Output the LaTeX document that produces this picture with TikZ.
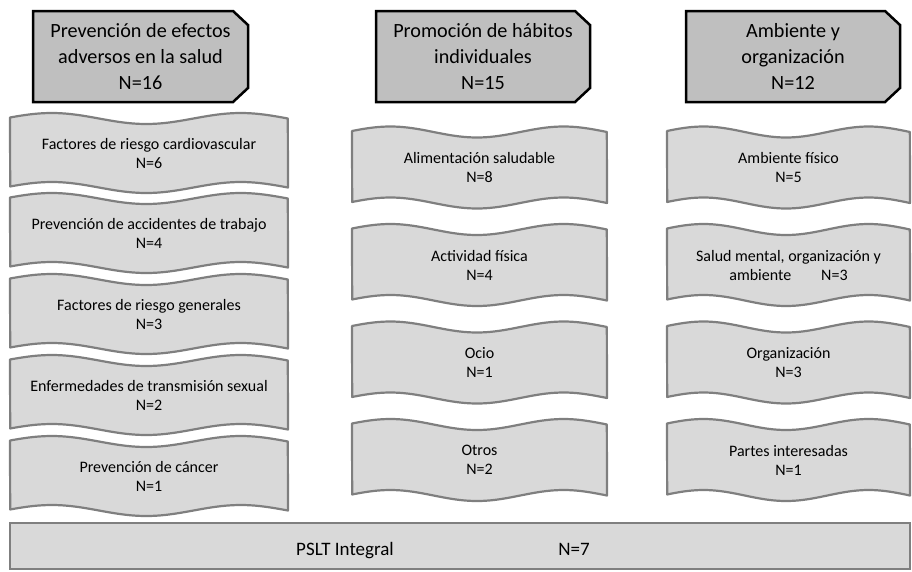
\documentclass[tikz,border=0pt]{standalone}
\usepackage{fontspec}
\setmainfont{Carlito}
\definecolor{hdrgray}{HTML}{BFBFBF}
\definecolor{wavefill}{HTML}{D9D9D9}
\definecolor{wavedraw}{HTML}{7F7F7F}
\newcommand\wamp{5.5}
\newcommand\hdrbox[4]{%
  \draw[hdr] (#2,11) -- (#3-15,11) -- (#3,25) -- (#3,88) -- (#3-15,102) -- (#2,102) -- cycle;
  \node[hdrtxt] (#1) at ({(#2+#3)/2},56.5) {#4};
}
\newcommand\wavebox[6]{%
  \draw[wv] plot[domain=0:1,samples=60,variable=\t] ({#2+\t*(#3-#2)},{#4-#5-\wamp*cos(360*(\t-0.15)/0.68)})
    -- plot[domain=1:0,samples=60,variable=\t] ({#2+\t*(#3-#2)},{#4+#5-\wamp*cos(360*(\t-0.15)/0.68)}) -- cycle;
  \node[wtxt] (#1) at ({(#2+#3)/2},#4) {#6};
}
\begin{document}
\begin{tikzpicture}[x=1pt,y=-1pt,
  hdr/.style={draw=black, line width=2.5pt, fill=hdrgray, line join=miter},
  wv/.style={draw=wavedraw, line width=2.2pt, fill=wavefill, line join=round},
  bot/.style={draw=wavedraw, line width=2.2pt, fill=wavefill},
  hdrtxt/.style={align=center, font=\fontsize{20.2}{26}\selectfont, inner sep=0pt},
  wtxt/.style={align=center, font=\fontsize{16}{19}\selectfont, inner sep=0pt},
  btxt/.style={font=\fontsize{19}{22}\selectfont, inner sep=0pt, anchor=base},
]
\useasboundingbox (0,0) rectangle (912,571);
% headers
\hdrbox{h1}{33}{248}{Prevención de efectos\\adversos en la salud\\N=16}
\hdrbox{h2}{376}{590}{Promoción de hábitos\\individuales\\N=15}
\hdrbox{h3}{686}{900}{Ambiente y\\organización\\N=12}
% column 1
\wavebox{a1}{10}{288}{153}{34.5}{Factores de riesgo cardiovascular\\N=6}
\wavebox{a2}{10}{288}{233}{34.5}{Prevención de accidentes de trabajo\\N=4}
\wavebox{a3}{10}{288}{314}{34.5}{Factores de riesgo generales\\N=3}
\wavebox{a4}{10}{288}{395}{34.5}{Enfermedades de transmisión sexual\\N=2}
\wavebox{a5}{10}{288}{476}{34.5}{Prevención de cáncer\\N=1}
% column 2
\wavebox{b1}{352}{607}{167.5}{35.5}{Alimentación saludable\\N=8}
\wavebox{b2}{352}{607}{265}{35.5}{Actividad física\\N=4}
\wavebox{b3}{352}{607}{362.5}{35.5}{Ocio\\N=1}
\wavebox{b4}{352}{607}{460}{35.5}{Otros\\N=2}
% column 3
\wavebox{c1}{667}{910}{167.5}{35.5}{Ambiente físico\\N=5}
\wavebox{c2}{667}{910}{265}{35.5}{Salud mental, organización y\\ambiente\hspace{30pt}N=3}
\wavebox{c3}{667}{910}{362.5}{35.5}{Organización\\N=3}
\wavebox{c4}{667}{910}{460}{35.5}{Partes interesadas\\N=1}
% bottom
\draw[bot] (10,523) rectangle (910,569);
\node[btxt] (pslt) at (345,555) {PSLT Integral};
\node[btxt] (n7) at (574,555) {N=7};
\end{tikzpicture}
\end{document}
